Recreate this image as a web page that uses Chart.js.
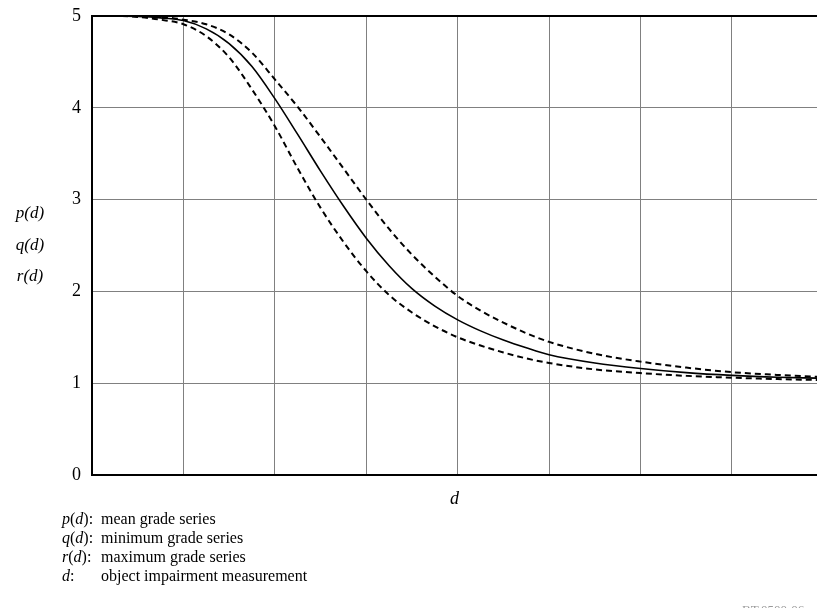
<!DOCTYPE html>
<html lang="en">

<head>
    <meta charset="UTF-8" />
    <title>Grade series vs object impairment</title>
    <script src="https://cdn.jsdelivr.net/npm/chart.js"></script>
    <style>
        html, body {
            margin: 0;
            padding: 0;
            background: #fff;
            overflow: hidden;
        }

        .wrap {
            position: relative;
            width: 817px;
            height: 608px;
            font-family: "Liberation Serif", "DejaVu Serif", serif;
            color: #000;
        }

        canvas {
            position: absolute;
            left: 0;
            top: 0;
        }

        .notes {
            position: absolute;
            left: 62px;
            top: 509px;
            font-size: 16px;
            line-height: 19px;
        }

        .notes .lbl {
            display: inline-block;
            width: 39px;
        }

        .code {
            position: absolute;
            left: 742px;
            top: 602px;
            font-size: 13px;
            color: #999;
        }
    </style>
</head>

<body>
    <div class="wrap">
        <canvas id="gradeChart" width="817" height="608"></canvas>
        <div class="notes">
            <div><span class="lbl"><i>p</i>(<i>d</i>):</span>mean grade series</div>
            <div><span class="lbl"><i>q</i>(<i>d</i>):</span>minimum grade series</div>
            <div><span class="lbl"><i>r</i>(<i>d</i>):</span>maximum grade series</div>
            <div><span class="lbl"><i>d</i>:</span>object impairment measurement</div>
        </div>
        <div class="code">BT.0500-06</div>
    </div>

    <script>
        // values (d in grid units)
        const dValues = [0, 0.25, 0.5, 0.75, 1, 1.25, 1.5, 1.75, 2, 2.25, 2.5, 2.75, 3, 3.25, 3.5, 3.75, 4, 4.25, 4.5, 4.75, 5, 5.5, 6, 6.5, 7, 7.5, 7.93];
        const meanGrade = [5.0, 5.0, 4.995, 4.98, 4.95, 4.86, 4.70, 4.45, 4.10, 3.71, 3.31, 2.93, 2.58, 2.28, 2.03, 1.84, 1.69, 1.57, 1.47, 1.385, 1.31, 1.22, 1.16, 1.115, 1.085, 1.065, 1.055];
        const minGrade = [5.0, 5.0, 4.99, 4.96, 4.91, 4.78, 4.55, 4.20, 3.80, 3.34, 2.91, 2.54, 2.22, 1.96, 1.77, 1.62, 1.50, 1.41, 1.335, 1.27, 1.22, 1.15, 1.11, 1.08, 1.06, 1.045, 1.035];
        const maxGrade = [5.0, 5.0, 5.0, 4.99, 4.96, 4.91, 4.80, 4.60, 4.31, 4.01, 3.68, 3.34, 3.0, 2.68, 2.40, 2.16, 1.95, 1.79, 1.66, 1.545, 1.45, 1.32, 1.235, 1.17, 1.12, 1.09, 1.07];
        const yTicks = [0, 1, 2, 3, 4, 5];
        const yLabels = ['p(d)', 'q(d)', 'r(d)'];

        const toPoints = (ys) => ys.map((y, i) => ({ x: dValues[i], y: y }));

        const serif = '"Liberation Serif", "DejaVu Serif", serif';

        // stacked italic labels left of the y axis
        const sideLabels = {
            id: 'sideLabels',
            afterDraw(chart) {
                const ctx = chart.ctx;
                ctx.save();
                ctx.font = 'italic 17px ' + serif;
                ctx.fillStyle = '#000';
                ctx.textAlign = 'center';
                ctx.textBaseline = 'middle';
                yLabels.forEach((t, i) => {
                    ctx.fillText(t, 30, 214 + i * 31.5);
                });
                ctx.restore();
            }
        };

        const ctx = document.getElementById('gradeChart').getContext('2d');

        new Chart(ctx, {
            type: 'line',
            data: {
                datasets: [
                    {
                        label: 'p(d)',
                        data: toPoints(meanGrade),
                        borderColor: '#000',
                        borderWidth: 1.6,
                        pointRadius: 0,
                        cubicInterpolationMode: 'monotone',
                    },
                    {
                        label: 'q(d)',
                        data: toPoints(minGrade),
                        borderColor: '#000',
                        borderWidth: 2,
                        borderDash: [6, 4],
                        pointRadius: 0,
                        cubicInterpolationMode: 'monotone',
                    },
                    {
                        label: 'r(d)',
                        data: toPoints(maxGrade),
                        borderColor: '#000',
                        borderWidth: 2,
                        borderDash: [6, 4],
                        pointRadius: 0,
                        cubicInterpolationMode: 'monotone',
                    },
                ],
            },
            options: {
                responsive: false,
                animation: false,
                layout: {
                    padding: { left: 0, top: 16, right: 0, bottom: 98 },
                },
                plugins: {
                    legend: { display: false },
                    tooltip: { enabled: false },
                },
                scales: {
                    x: {
                        type: 'linear',
                        min: 0,
                        max: 7.93,
                        ticks: {
                            stepSize: 1,
                            display: false,
                        },
                        grid: {
                            drawTicks: false,
                            color: (c) => Number.isInteger(c.tick.value) ? '#808080' : 'rgba(0,0,0,0)',
                            lineWidth: 1,
                        },
                        border: { color: '#000', width: 2 },
                        title: {
                            display: true,
                            text: 'd',
                            color: '#000',
                            font: { family: serif, size: 18, style: 'italic' },
                            padding: { top: 10, bottom: 0 },
                        },
                        afterFit: (scale) => { scale.height = 35; },
                    },
                    y: {
                        min: 0,
                        max: 5,
                        afterBuildTicks: (scale) => {
                            scale.ticks = yTicks.map((v) => ({ value: v }));
                        },
                        ticks: {
                            color: '#000',
                            padding: 11,
                            font: { family: serif, size: 18 },
                        },
                        grid: {
                            drawTicks: false,
                            color: (c) => c.tick.value === 5 ? '#000' : '#808080',
                            lineWidth: (c) => c.tick.value === 5 ? 2 : 1,
                        },
                        border: { color: '#000', width: 2 },
                        afterFit: (scale) => {
                            scale.width = 92;
                            scale.paddingTop = 0;
                            scale.paddingBottom = 0;
                        },
                    },
                },
            },
            plugins: [sideLabels],
        });
    </script>
</body>

</html>
